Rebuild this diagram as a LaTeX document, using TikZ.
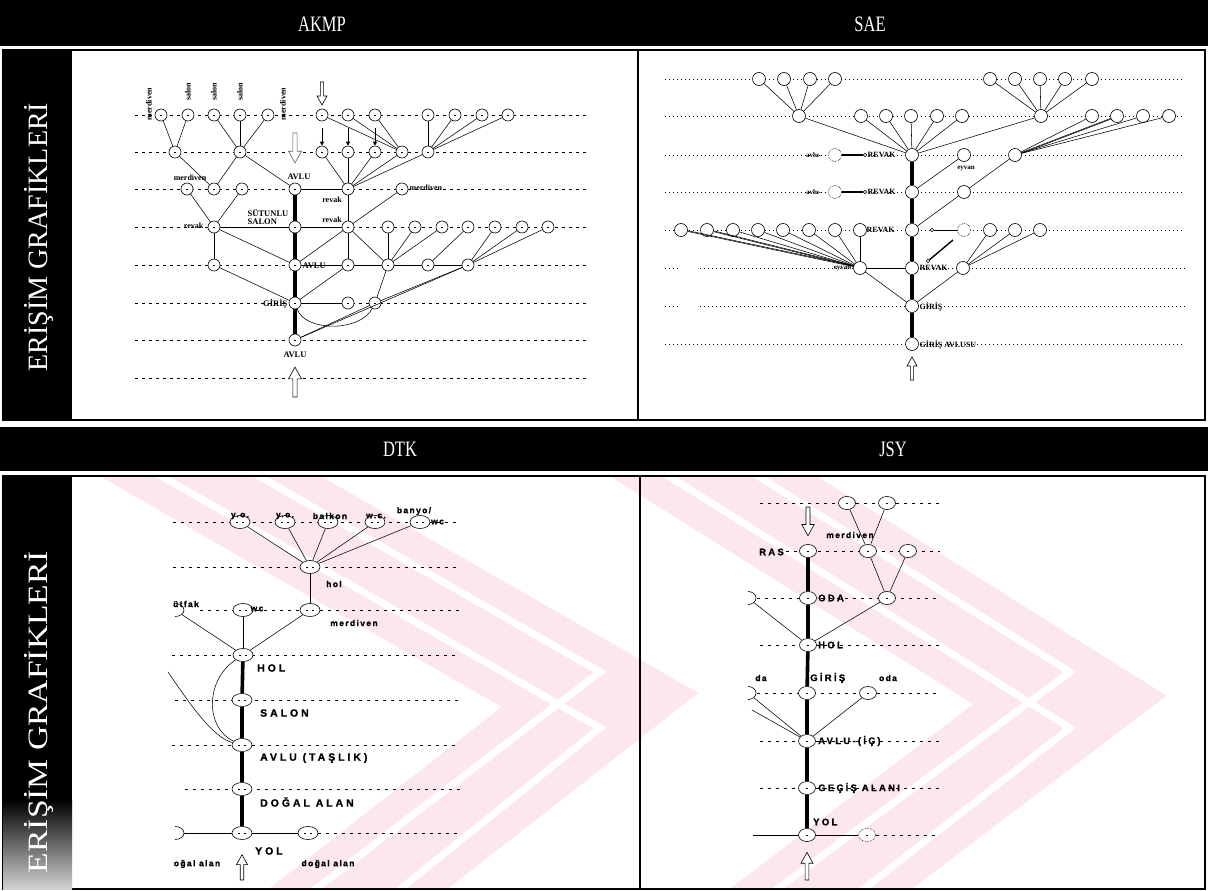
\documentclass[tikz,border=0pt]{standalone}
\usepackage{graphicx}
\usepackage{fontspec}
\setmainfont{Liberation Serif}
\newfontfamily\dsans{Liberation Sans}[LetterSpace=28,BoldFeatures={FakeBold=1.2}]
\newfontfamily\jsans{Liberation Sans}[LetterSpace=24,BoldFeatures={FakeBold=1.2}]
\newfontfamily\lsans{Liberation Sans}[LetterSpace=16,BoldFeatures={FakeBold=1.0}]
\usetikzlibrary{shapes.geometric,arrows.meta}
\definecolor{wm}{RGB}{252,232,236}
\tikzset{pics/harrow/.style={code={\draw[line width=0.6pt,fill=white,line join=miter] (-1.6,0) -- (-1.6,-14) -- (-5,-14) -- (0,-23) -- (5,-14) -- (1.6,-14) -- (1.6,0) -- cycle;}}}
\begin{document}
\begin{tikzpicture}[x=1pt,y=-1pt,
 akn/.style={circle,draw,line width=0.6pt,minimum size=12pt,inner sep=0pt,fill=white,
   path picture={\draw[line width=0.5pt] ([xshift=-1.2pt]path picture bounding box.center) -- ([xshift=1.2pt]path picture bounding box.center);}},
 san/.style={circle,draw,line width=0.6pt,minimum size=13pt,inner sep=0pt,fill=white,
   path picture={\fill (path picture bounding box.center) circle (0.6pt);}},
 sdn/.style={san,densely dotted},
 smc/.style={circle,draw,line width=0.5pt,minimum size=3.5pt,inner sep=0pt,fill=white},
 dtn/.style={ellipse,draw,line width=0.6pt,minimum width=20pt,minimum height=13pt,inner sep=0pt,fill=white,
   path picture={\draw[line width=0.5pt] ([xshift=-4pt]path picture bounding box.center) -- ([xshift=-2pt]path picture bounding box.center);
                 \draw[line width=0.5pt] ([xshift=2pt]path picture bounding box.center) -- ([xshift=4pt]path picture bounding box.center);}},
 jsn/.style={ellipse,draw,line width=0.6pt,minimum width=17pt,minimum height=13pt,inner sep=0pt,fill=white,
   path picture={\draw[line width=0.5pt] ([xshift=-1.2pt]path picture bounding box.center) -- ([xshift=1.2pt]path picture bounding box.center);}},
 ghost/.style={ellipse,minimum width=18pt,minimum height=13pt,inner sep=0pt},
 akgrid/.style={line width=0.5pt,dash pattern=on 3pt off 4pt},
 sgrid/.style={line width=0.6pt,dash pattern=on 1pt off 3pt},
 dgrid/.style={line width=0.5pt,dash pattern=on 3pt off 5pt},
 lnk/.style={line width=0.55pt},
 thk/.style={line width=3.6pt},
 hdr/.style={text=white,font=\fontsize{22}{22}\selectfont,inner sep=0pt},
 side/.style={text=white,font=\fontsize{28}{28}\selectfont,inner sep=0pt},
 akl/.style={font=\fontsize{8}{8}\selectfont\bfseries,inner sep=0.5pt},
 akc/.style={font=\fontsize{8.5}{8}\selectfont\bfseries,inner sep=0.5pt},
 sl/.style={font=\fontsize{7}{7}\selectfont\bfseries,inner sep=0.5pt},
 sc/.style={font=\fontsize{8}{8}\selectfont\bfseries,inner sep=0.5pt},
 dc/.style={font=\dsans\fontsize{10.5}{11}\selectfont\bfseries,inner sep=0pt},
 dl/.style={font=\lsans\fontsize{8.5}{9}\selectfont\bfseries,inner sep=0pt},
 jc/.style={font=\jsans\fontsize{9.5}{10}\selectfont\bfseries,inner sep=0pt}
]
\useasboundingbox (0,0) rectangle (1208,891);
\fill[white] (0,0) rectangle (1208,891);

% ---------- watermark (bottom panels) ----------
\begin{scope}
\clip (72,476) rectangle (1205,889);
\draw[wm,line width=110pt,line join=miter] (130,430) -- (600,700) -- (280,950);
\draw[white,line width=7pt] (130,402) -- (600,672) -- (262,930);
\draw[white,line width=7pt] (130,458) -- (600,728) -- (300,970);
\draw[wm,line width=110pt,line join=miter] (640,430) -- (1070,700) -- (740,950);
\draw[white,line width=7pt] (640,402) -- (1070,672) -- (722,930);
\draw[white,line width=7pt] (640,458) -- (1070,728) -- (760,970);
\end{scope}

% ---------- bars and frames ----------
\fill[black] (0,0) rectangle (1208,46);
\draw[line width=1.5pt] (3,50) rectangle (1205,420);
\fill[black] (3,50) rectangle (72,420);
\draw[line width=1.2pt] (638,50) -- (638,420);
\fill[black] (0,427) rectangle (1208,471);
\draw[line width=1.5pt] (3,476) rectangle (1205,889);
\fill[black] (3,476) rectangle (72,889);
\shade[top color=black,bottom color=gray!35] (3,800) rectangle (72,889);
\draw[line width=1.2pt] (640,476) -- (640,889);

\node[hdr] (hA) at (322,24) {\scalebox{0.75}[1]{AKMP}};
\node[hdr] (hS) at (870,24) {\scalebox{0.75}[1]{SAE}};
\node[hdr] (hD) at (400,449) {\scalebox{0.75}[1]{DTK}};
\node[hdr] (hJ) at (893,449) {\scalebox{0.75}[1]{JSY}};
\node[side,rotate=90] (sb1) at (39,237) {\scalebox{1.0}[1]{ERİŞİM GRAFİKLERİ}};
\node[side,rotate=90] (sb2) at (39,712) {\scalebox{1.2}[1]{ERİŞİM GRAFİKLERİ}};

% ================= AKMP =================
\foreach \y in {115,152,189,227,265,303,340,378} \draw[akgrid] (135,\y) -- (588,\y);
\foreach \n/\x in {a1a/161,a1b/188,a1c/214,a1d/240,a1e/268,a1f/322,a1g/348,a1h/375,a1i/428,a1j/455,a1k/482,a1l/508}
  \node[akn] (\n) at (\x,115) {};
\foreach \n/\x in {a2a/175,a2b/240,a2c/322,a2d/348,a2e/375,a2f/402,a2g/428}
  \node[akn] (\n) at (\x,152) {};
\foreach \n/\x in {a3a/187,a3b/214,a3c/242,a3d/295,a3e/348,a3f/402}
  \node[akn] (\n) at (\x,189) {};
\foreach \n/\x in {a4a/214,a4b/295,a4c/348,a4d/388,a4e/415,a4f/442,a4g/468,a4h/495,a4i/522,a4j/548}
  \node[akn] (\n) at (\x,227) {};
\foreach \n/\x in {a5a/214,a5b/295,a5c/348,a5d/388,a5e/428,a5f/468}
  \node[akn] (\n) at (\x,265) {};
\foreach \n/\x in {a6a/295,a6b/348,a6c/375}
  \node[akn] (\n) at (\x,303) {};
\node[akn] (a7a) at (295,340) {};

\draw[thk] (a3d) -- (a4b);
\draw[thk] (a4b) -- (a5b);
\draw[thk] (a5b) -- (a6a);
\draw[thk] (a6a) -- (a7a);
\foreach \p/\q in {a1a/a2a,a1b/a2a,a1c/a2b,a1d/a2b,a1e/a2b,a2a/a3b,a2b/a3b,a2b/a3d,
  a3a/a4a,a3c/a4a,a4a/a4b,a3d/a3e,a4b/a4c,a4a/a5a,a4a/a5b,a5a/a6a,a4c/a5b,a4c/a5c,a4c/a5d,
  a5b/a5c,a5c/a5d,a5d/a5e,a5e/a5f,a6a/a5c,a6a/a6b,a7a/a6c,a7a/a5f,a6c/a5d,a6c/a5f,
  a4c/a3e,a4c/a3f,a4d/a5d,a4e/a5d,a4f/a5d,a4g/a5e,a4h/a5f,a4i/a5f,a4j/a5f,
  a3e/a2c,a3e/a2d,a3e/a2e,a3e/a2f,a3e/a2g,a1f/a2f,a1g/a2f,a1h/a2f,
  a1i/a2g,a1j/a2g,a1k/a2g,a1l/a2g}
  \draw[lnk] (\p) -- (\q);
\draw[lnk] (a6a) .. controls (305,332) and (360,332) .. (a6c);

\foreach \n/\x in {ar1/322,ar2/348,ar3/375} \coordinate (\n) at (\x,128);
\draw[line width=1pt,-{Triangle[length=4pt,width=4pt]}] (ar1) -- (a2c);
\draw[line width=1pt,-{Triangle[length=4pt,width=4pt]}] (ar2) -- (a2d);
\draw[line width=1pt,-{Triangle[length=4pt,width=4pt]}] (ar3) -- (a2e);
\pic[rotate=180] at (322,82) {harrow};
\pic[rotate=180,scale=1.3,color=gray!75!black] at (295,133) {harrow};
\pic[scale=1.3] at (295,397) {harrow};

\node[akl,rotate=90] (tm1) at (149,104) {merdiven};
\node[akl,rotate=90] (ts1) at (188,92) {salon};
\node[akl,rotate=90] (ts2) at (214,92) {salon};
\node[akl,rotate=90] (ts3) at (240,92) {salon};
\node[akl,rotate=90] (tm2) at (283,104) {merdiven};
\node[akl] (tm3) at (190,178) {merdiven};
\node[akc] (tav1) at (299,177) {AVLU};
\node[akl,anchor=west] (tm4) at (409,188) {merdiven};
\node[akl] (tr1) at (332,200) {revak};
\node[akl,anchor=east] (tr2) at (204,226) {revak};
\node[akc,anchor=west,align=left] (tsut) at (247,217) {SÜTUNLU\\SALON};
\node[akl] (tr3) at (332,220) {revak};
\node[akc,anchor=west] (tav2) at (302,266) {AVLU};
\node[akc,anchor=east] (tgir) at (288,304) {GİRİŞ};
\node[akc] (tav3) at (295,355) {AVLU};

% ================= SAE =================
\foreach \y in {79,116,155,192,230,344} \draw[sgrid] (665,\y) -- (1185,\y);
\foreach \y in {268,306} {\draw[sgrid] (665,\y) -- (680,\y); \draw[sgrid] (700,\y) -- (1185,\y);}
\foreach \n/\x in {s1a/759,s1b/784,s1c/810,s1d/835,s1e/990,s1f/1015,s1g/1040,s1h/1065,s1i/1092}
  \node[san] (\n) at (\x,79) {};
\foreach \n/\x in {s2a/799,s2b/861,s2c/886,s2d/911,s2e/937,s2f/962,s2g/1041,s2h/1092,s2i/1117,s2j/1143,s2k/1169}
  \node[san] (\n) at (\x,116) {};
\node[sdn] (s3d) at (835,155) {};
\node[smc] (s3c) at (865,155) {};
\node[san] (s3m) at (912,155) {};
\node[san] (s3e) at (964,155) {};
\node[san] (s3f) at (1015,155) {};
\node[sdn] (s4d) at (835,192) {};
\node[smc] (s4c) at (865,192) {};
\node[san] (s4m) at (912,192) {};
\node[san] (s4e) at (964,192) {};
\foreach \n/\x in {s5a/681,s5b/707,s5c/733,s5d/758,s5e/783,s5f/809,s5g/835,s5h/860,s5i/990,s5j/1015,s5k/1040}
  \node[san] (\n) at (\x,230) {};
\node[san] (s5m) at (912,230) {};
\node[smc] (s5c2) at (932,230) {};
\node[sdn] (s5x) at (964,230) {};
\node[san] (s6a) at (860,268) {};
\node[san] (s6m) at (912,268) {};
\node[san] (s6b) at (963,268) {};
\node[san] (s7m) at (912,306) {};
\node[san] (s8m) at (912,344) {};

\draw[thk] (s3m) -- (s4m);
\draw[thk] (s4m) -- (s5m);
\draw[thk] (s5m) -- (s6m);
\draw[thk] (s6m) -- (s7m);
\draw[thk] (s7m) -- (s8m);
\foreach \p/\q in {s1a/s2a,s1b/s2a,s1c/s2a,s1d/s2a,s1e/s2g,s1f/s2g,s1g/s2g,s1h/s2g,s1i/s2g,
  s2a/s3m,s2b/s3m,s2c/s3m,s2d/s3m,s2e/s3m,s2f/s3m,s2g/s3m,
  s2h/s3f,s2i/s3f,s2j/s3f,s2k/s3f,s3f/s4e,s4e/s5m,s3e/s4m,
  s5a/s6a,s5b/s6a,s5c/s6a,s5d/s6a,s5e/s6a,s5f/s6a,s5g/s6a,s5h/s6a,
  s5i/s6b,s5j/s6b,s5k/s6b,s6a/s6m,s6a/s7m,s6b/s7m}
  \draw[lnk] (\p) -- (\q);
\draw[lnk,transform canvas={yshift=-0.8pt}] (s2i) -- (s3f);
\draw[lnk,transform canvas={yshift=0.8pt}] (s5a) -- (s6a);
\draw[lnk,transform canvas={yshift=0.8pt}] (s5b) -- (s6a);
\draw[line width=1.2pt] (s3d) -- (s3c);
\draw[line width=1.2pt] (s4d) -- (s4c);
\draw[line width=1pt] (s5c2) -- (s5x);
\coordinate (sd1) at (953,240);
\node[smc] (sd2) at (928,261) {};
\draw[line width=1.4pt] (sd1) -- (sd2);
\pic at (912,380) {harrow};

\node[sl,anchor=east] (sav1) at (822,155) {avlu-};
\node[sl,anchor=east] (sav2) at (822,192) {avlu-};
\node[sc,anchor=west] (srv1) at (867,155) {REVAK};
\node[sc,anchor=west] (srv2) at (867,192) {REVAK};
\node[sc,anchor=west] (srv3) at (866,230) {REVAK};
\node[sl] (sey1) at (966,169) {eyvan};
\node[sl,anchor=east] (sey2) at (852,269) {eyvan};
\node[sc,anchor=west] (srv4) at (919,268) {REVAK};
\node[sc,anchor=west] (sgr) at (919,307) {GİRİŞ};
\node[sc,anchor=west] (sga) at (919,345) {GİRİŞ AVLUSU};

% ================= DTK =================
\draw[dgrid] (173,522) -- (460,522);
\draw[dgrid] (173,567) -- (460,567);
\draw[dgrid] (200,610) -- (460,610);
\draw[dgrid] (172,655) -- (460,655);
\draw[dgrid] (175,700) -- (460,700);
\draw[dgrid] (172,745) -- (460,745);
\draw[dgrid] (185,789) -- (460,789);
\draw[dgrid] (318,833) -- (460,833);
\foreach \n/\x in {d1a/240,d1b/285,d1c/328,d1d/375,d1e/420}
  \node[dtn] (\n) at (\x,522) {};
\node[dtn] (d2) at (310,567) {};
\node[ghost] (d3a) at (175,610) {};
\draw[line width=0.6pt] (175,616.5) arc[start angle=90,end angle=-90,x radius=9,y radius=6.5];
\node[dtn] (d3b) at (243,610) {};
\node[dtn] (d3c) at (310,610) {};
\node[dtn] (d4) at (243,655) {};
\node[dtn] (d5) at (242,700) {};
\node[dtn] (d6) at (242,745) {};
\node[dtn] (d7) at (242,789) {};
\node[dtn] (d8) at (242,833) {};
\node[ghost] (d8l) at (175,833) {};
\draw[line width=0.6pt] (175,839.5) arc[start angle=90,end angle=-90,x radius=9,y radius=6.5];
\node[dtn] (d8r) at (308,833) {};
\draw[thk] (d4) -- (d5);
\draw[thk] (d5) -- (d6);
\draw[thk] (d6) -- (d7);
\draw[thk] (d7) -- (d8);
\foreach \p/\q in {d1a/d2,d1b/d2,d1c/d2,d1d/d2,d1e/d2,d2/d3c,d3c/d4,d3b/d4,d3a/d4,d8l/d8,d8/d8r}
  \draw[lnk] (\p) -- (\q);
\draw[lnk] (d4) .. controls (205,680) and (205,728) .. (d6);
\coordinate (dtc) at (168,672);
\draw[lnk] (dtc) .. controls (195,712) and (215,738) .. (d6);
\pic[scale=1.1] at (242,880) {harrow};

\node[dl] (dy1) at (240,516) {y.o.};
\node[dl] (dy2) at (285,516) {y.o.};
\node[dl] (dbk) at (330,516) {balkon};
\node[dl] (dwc1) at (376,516) {w.c.};
\node[dl] (dbn) at (414,511) {banyo/};
\node[dl,anchor=west] (dwc2) at (431,522) {wc};
\node[dl] (dhol) at (334,584) {hol};
\node[dl] (dut) at (186,604) {ütfak};
\node[dl] (dwc3) at (257,609) {wc};
\node[dl] (dmer) at (354,623) {merdiven};
\node[dc,anchor=west] (dHOL) at (257,668) {HOL};
\node[dc,anchor=west] (dSAL) at (260,713) {SALON};
\node[dc,anchor=west] (dAV) at (260,758) {AVLU (TAŞLIK)};
\node[dc,anchor=west] (dDA) at (260,802) {DOĞAL ALAN};
\node[dc,anchor=west] (dYOL) at (255,851) {YOL};
\node[dl] (doa1) at (197,864) {oğal alan};
\node[dl] (doa2) at (328,864) {doğal alan};

% ================= JSY =================
\draw[dgrid] (760,503) -- (940,503);
\draw[dgrid] (786,551) -- (940,551);
\draw[dgrid] (757,598) -- (940,598);
\draw[dgrid] (760,645) -- (940,645);
\draw[dgrid] (757,693) -- (940,693);
\draw[dgrid] (760,741) -- (940,741);
\draw[dgrid] (760,788) -- (940,788);
\draw[dgrid] (876,835) -- (940,835);
\node[jsn] (j1a) at (847,503) {};
\node[jsn] (j1b) at (887,503) {};
\node[jsn] (j2a) at (808,551) {};
\node[jsn] (j2b) at (868,551) {};
\node[jsn] (j2c) at (908,551) {};
\node[ghost] (j3l) at (748,598) {};
\draw[line width=0.6pt] (748,604.5) arc[start angle=90,end angle=-90,x radius=8,y radius=6.5];
\node[jsn] (j3a) at (808,598) {};
\node[jsn] (j3b) at (887,598) {};
\node[jsn] (j4) at (808,645) {};
\node[ghost] (j5l) at (748,693) {};
\draw[line width=0.6pt] (748,699.5) arc[start angle=90,end angle=-90,x radius=8,y radius=6.5];
\node[jsn] (j5a) at (807,693) {};
\node[jsn] (j5b) at (868,693) {};
\node[jsn] (j6) at (807,741) {};
\node[jsn] (j7) at (807,788) {};
\node[jsn] (j8) at (807,835) {};
\node[jsn,densely dotted] (j8r) at (867,835) {};
\coordinate (j8l) at (753,835);
\coordinate (j5x) at (752,710);
\draw[thk] (j2a) -- (j3a);
\draw[thk] (j3a) -- (j4);
\draw[thk] (j4) -- (j5a);
\draw[thk] (j5a) -- (j6);
\draw[thk] (j6) -- (j7);
\draw[thk] (j7) -- (j8);
\foreach \p/\q in {j1a/j2b,j1b/j2b,j2b/j3b,j2c/j3b,j3b/j4,j3l/j4,j5l/j6,j5x/j6,j5b/j6,j8l/j8,j8/j8r}
  \draw[lnk] (\p) -- (\q);
\pic[rotate=180,scale=1.25] at (808,507) {harrow};
\pic[scale=1.2] at (807,880) {harrow};

\node[jc,anchor=east] (jRAS) at (784,552) {RAS};
\node[dl] (jmer) at (850,535) {merdiven};
\node[jc,anchor=west] (jODA) at (818,598) {ODA};
\node[jc,anchor=west] (jHOL) at (818,645) {HOL};
\node[dl] (jda) at (761,678) {da};
\node[jc,anchor=west] (jGIR) at (810,678) {GİRİŞ};
\node[dl] (joda) at (888,678) {oda};
\node[jc,anchor=west] (jAV) at (818,741) {AVLU-(İÇ)};
\node[jc,anchor=west] (jGEC) at (818,788) {GEÇİŞ ALANI};
\node[jc,anchor=west] (jYOL) at (813,822) {YOL};
\end{tikzpicture}
\end{document}
